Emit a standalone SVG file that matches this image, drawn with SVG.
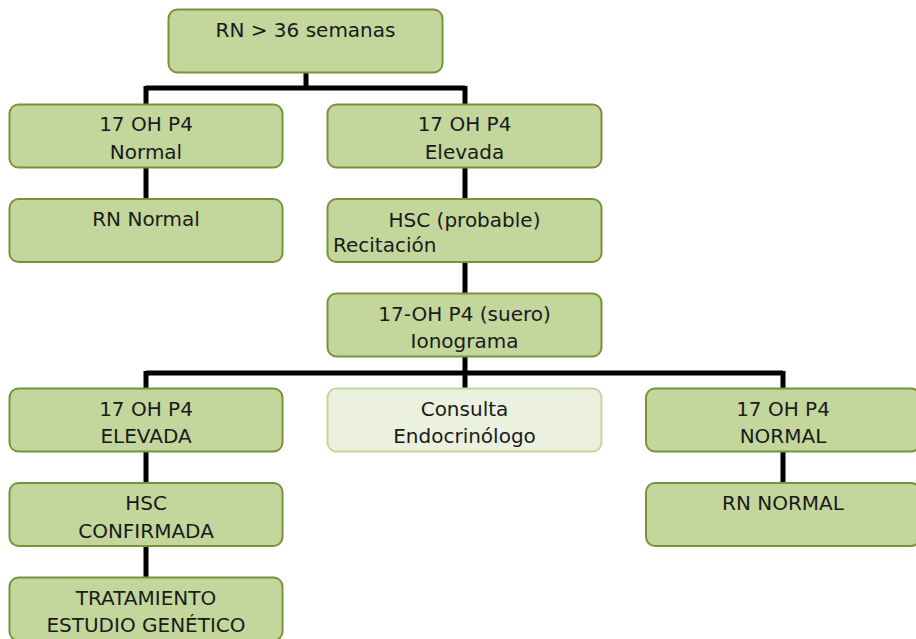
<svg xmlns="http://www.w3.org/2000/svg" width="916" height="639" viewBox="0 0 916 639">
  <style>
    .box { fill: #c3d69b; stroke: #77933c; stroke-width: 2; }
    .box.light { fill: #ebf1de; stroke: #c3d69b; }
    .lbl { font-family: "DejaVu Sans", "Liberation Sans", sans-serif; font-size: 20px; fill: #1a1a1a; text-anchor: middle; }
    .lbl.left { text-anchor: start; }
    .wire { fill: none; stroke: #000; stroke-width: 5; }
  </style>
  <rect width="916" height="639" fill="#fff"/>

  <!-- connectors -->
  <g id="connectors">
    <path class="wire" d="M306 73 V88 M146 88 H465 M146 86 V104 M465 86 V104"/>
    <path class="wire" d="M146 168 V199"/>
    <path class="wire" d="M465 168 V199 M465 262 V293"/>
    <path class="wire" d="M465 357 V373 M146 373 H783 M146 371 V388 M465 371 V388 M783 371 V388"/>
    <path class="wire" d="M146 451 V483 M146 546 V577"/>
    <path class="wire" d="M783 451 V483"/>
  </g>

  <g id="n-rn36">
    <rect class="box" x="168.5" y="9.5" width="274" height="63" rx="9"/>
    <text class="lbl" x="305.5" y="37">RN &gt; 36 semanas</text>
  </g>

  <g id="n-oh-normal">
    <rect class="box" x="9.5" y="104.5" width="273" height="63" rx="9"/>
    <text class="lbl" x="146" y="131">17 OH P4</text>
    <text class="lbl" x="146" y="158.5">Normal</text>
  </g>

  <g id="n-rn-normal">
    <rect class="box" x="9.5" y="199" width="273" height="63" rx="9"/>
    <text class="lbl" x="146" y="226">RN Normal</text>
  </g>

  <g id="n-oh-elevada">
    <rect class="box" x="327.5" y="104.5" width="274" height="63" rx="9"/>
    <text class="lbl" x="464.5" y="131">17 OH P4</text>
    <text class="lbl" x="464.5" y="158.5">Elevada</text>
  </g>

  <g id="n-hsc-probable">
    <rect class="box" x="327.5" y="199" width="274" height="63" rx="9"/>
    <text class="lbl" x="464.5" y="226.5">HSC (probable)</text>
    <text class="lbl left" x="333" y="251.5">Recitación</text>
  </g>

  <g id="n-suero">
    <rect class="box" x="327.5" y="293.5" width="274" height="63" rx="9"/>
    <text class="lbl" x="464.5" y="320.5">17-OH P4 (suero)</text>
    <text class="lbl" x="464.5" y="348">Ionograma</text>
  </g>

  <g id="n-oh-elevada2">
    <rect class="box" x="9.5" y="388.5" width="273" height="63" rx="9"/>
    <text class="lbl" x="146" y="415.5">17 OH P4</text>
    <text class="lbl" x="146" y="443">ELEVADA</text>
  </g>

  <g id="n-consulta">
    <rect class="box light" x="327.5" y="388.5" width="274" height="63" rx="9"/>
    <text class="lbl" x="464.5" y="415.5">Consulta</text>
    <text class="lbl" x="464.5" y="443">Endocrinólogo</text>
  </g>

  <g id="n-oh-normal2">
    <rect class="box" x="646" y="388.5" width="274" height="63" rx="9"/>
    <text class="lbl" x="783" y="415.5">17 OH P4</text>
    <text class="lbl" x="783" y="443">NORMAL</text>
  </g>

  <g id="n-rn-normal2">
    <rect class="box" x="646" y="483" width="274" height="63" rx="9"/>
    <text class="lbl" x="783" y="510">RN NORMAL</text>
  </g>

  <g id="n-hsc-confirmada">
    <rect class="box" x="9.5" y="483" width="273" height="63" rx="9"/>
    <text class="lbl" x="146" y="510">HSC</text>
    <text class="lbl" x="146" y="537.5">CONFIRMADA</text>
  </g>

  <g id="n-tratamiento">
    <rect class="box" x="9.5" y="577.5" width="273" height="63" rx="9"/>
    <text class="lbl" x="146" y="604.5">TRATAMIENTO</text>
    <text class="lbl" x="146" y="632">ESTUDIO GENÉTICO</text>
  </g>
</svg>
